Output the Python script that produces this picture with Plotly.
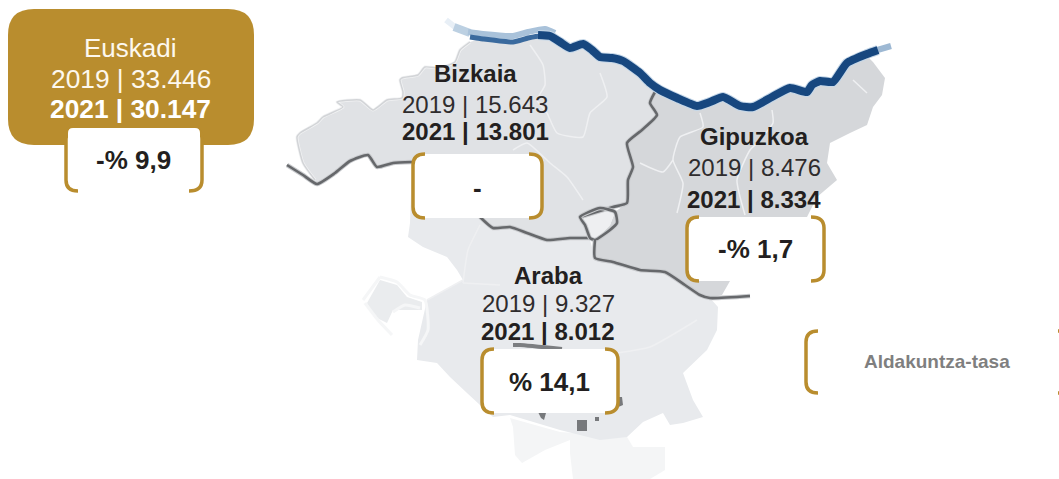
import plotly.graph_objects as go

# ---------- data ----------
territories = ["Bizkaia", "Gipuzkoa", "Araba"]
values_2019 = ["15.643", "8.476", "9.327"]
values_2021 = ["13.801", "8.334", "8.012"]
rates = ["-", "-% 1,7", "% 14,1"]
total_name = "Euskadi"
total_2019 = "33.446"
total_2021 = "30.147"
total_rate = "-% 9,9"
legend_label = "Aldakuntza-tasa"

# ---------- map outlines, in picture units ----------
coast = [(538,35),(550,36),(560,42),(570,48),(583,44),(592,50),(600,57),(612,58),(623,61),(640,73),(650,83),(660,90),(677,98),(697,106),(710,102),(723,97),(740,106),(753,107),(772,97),(790,88),(807,92),(812,85),(820,81),(833,82),(847,63),(867,54),(878,50)]
coast_w1 = [(446,20),(455,27)]
coast_w2 = [(454,27),(470,33)]
coast_w3 = [(468,32),(483,34),(513,36),(528,32),(545,29),(555,33)]
coast_w4 = [(470,37),(483,39),(513,42),(528,38),(540,36),(552,38)]
coast_e = [(874,51),(891,46)]

bizkaia = [(470,42),(460,50),(455,62),(440,68),(425,67),(418,75),(402,78),(400,80),(403,92),(402,98),(387,100),(373,110),(360,100),(337,102),(343,107),(323,117),(317,123),(300,133),(297,137),(303,163),(317,183),(335,172),(350,161),(368,155),(377,167),(393,163),(412,162),(440,180),(480,217),(493,228),(510,227),(527,233),(547,240),(590,238),(585,225),(580,217),(600,208),(627,203),(628,180),(633,167),(627,143),(642,130),(657,115),(650,103),(655,92),(640,73),(623,61),(600,57),(583,44),(570,48),(550,34),(513,41),(483,38)]
bizkaia_edge = [(470,42),(460,50),(455,62),(440,68),(425,67),(418,75),(402,78),(400,80),(403,92),(402,98),(387,100),(373,110),(360,100),(337,102),(343,107),(323,117),(317,123),(300,133),(297,137),(303,163),(315,180)]
gipuzkoa = [(655,92),(650,103),(657,115),(642,130),(627,143),(633,167),(628,180),(627,203),(615,212),(610,225),(595,240),(595,258),(613,262),(640,270),(665,272),(685,285),(710,298),(722,295),(730,281),(807,217),(817,197),(837,180),(827,163),(830,143),(850,133),(867,125),(873,107),(882,95),(885,78),(873,62),(867,56),(847,65),(833,84),(817,84),(807,94),(790,90),(753,109),(740,108),(723,99),(697,108),(677,100),(660,92)]
araba = [(480,217),(493,228),(510,227),(527,233),(547,240),(590,240),(595,258),(613,262),(640,270),(665,272),(685,285),(710,298),(718,307),(717,330),(707,350),(683,373),(693,400),(703,417),(683,423),(670,425),(663,413),(643,422),(627,437),(600,440),(560,430),(510,415),(493,417),(467,393),(450,377),(437,363),(417,360),(418,340),(427,300),(463,280),(457,270),(447,257),(423,247),(408,237),(410,223),(412,162),(440,180)]
araba_west = [(380,280),(397,285),(407,297),(422,302),(422,310),(393,310),(387,323),(375,317),(367,303)]
araba_south = [(510,418),(513,427),(515,455),(522,463),(545,450),(570,440),(570,453),(573,479),(650,479),(665,470),(665,447),(633,447),(627,437),(560,432)]
loop_fill = [(580,217),(600,208),(615,212),(610,225),(595,240),(590,238),(585,225)]

border_west = [(287,165),(303,175),(317,184),(335,173),(350,161),(368,155),(377,167),(393,163),(412,162)]
border_mid = [(480,217),(493,228),(510,227),(527,233),(547,240),(570,238),(590,238)]
border_north = [(655,92),(650,103),(657,115),(642,130),(627,143),(633,167),(628,180),(627,203),(613,207),(580,217)]
border_loop = [(580,217),(600,208),(615,212),(617,223),(610,230),(595,240),(590,238),(588,233),(585,225),(580,217)]
border_south = [(595,240),(595,258),(613,262),(640,270),(665,272),(685,285),(700,295),(710,298),(750,296)]
araba_mark = [(513,345),(520,345),(562,349)]
blob_a = [(577,420),(587,420),(587,431),(577,431)]
blob_b = [(538,412),(546,413),(544,420),(541,418)]
blob_c = [(595,417),(599,417),(599,421),(595,421)]
blob_d = [(615,397),(622,397),(623,405),(616,408)]

white_lines = [
    [(530,45),(543,65),(545,85),(537,100),(547,113),(557,133),(583,137),(590,113),(607,97),(600,73)],
    [(513,150),(527,143),(550,163),(567,177),(583,200)],
    [(700,113),(703,127),(680,137),(673,160),(683,183),(677,213)],
    [(772,110),(773,123),(755,145),(750,150),(737,180),(745,215)],
    [(853,80),(867,93)],
    [(640,163),(663,172),(673,160)],
    [(617,353),(650,347),(697,320)],
    [(463,283),(468,250),(480,225)],
    [(463,283),(500,285)],
    [(427,300),(463,280)],
]
pale_rims = [
    [(380,277),(397,282),(410,295),(425,300),(428,330),(420,345)],
    [(365,303),(378,320),(392,335)],
    [(380,277),(363,300)],
    [(393,312),(405,305),(420,308)],
]

INK = "#231f20"
SOFT_INK = "#2f2c2d"
GOLD = "#b98d2e"
BLUE = "#17477f"
fig = go.Figure()


def poly(pts, color):
    fig.add_trace(go.Scatter(x=[p[0] for p in pts], y=[p[1] for p in pts], mode="lines",
                             fill="toself", fillcolor=color, line=dict(width=0),
                             hoverinfo="skip", showlegend=False))


def line(pts, color, width, spline=True):
    fig.add_trace(go.Scatter(x=[p[0] for p in pts], y=[p[1] for p in pts], mode="lines",
                             line=dict(color=color, width=width,
                                       shape="spline" if spline else "linear", smoothing=0.5),
                             hoverinfo="skip", showlegend=False))


poly(araba_south, "#f4f5f6")
poly(araba_west, "#eaecee")
poly(araba, "#e8eaed")
poly(bizkaia, "#e0e2e5")
poly(gipuzkoa, "#d5d7da")
poly(loop_fill, "#eeeff1")
line(bizkaia_edge, "#f2f3f4", 3)
line(bizkaia_edge, "#d2d4d7", 1.5)
for w in white_lines:
    line(w, "#eff0f2", 1.5)
for w in pale_rims:
    line(w, "#f5f6f7", 3)
for b in (border_west, border_mid, border_north, border_loop, border_south):
    line(b, "#c9cbce", 4.5)
    line(b, "#66686b", 2.6)
line(araba_mark, "#7c7e81", 4)
for b in (blob_a, blob_b, blob_c, blob_d):
    poly(b, "#77797c")
line(coast_w1, "#e8eff6", 6)
line(coast_w2, "#bcd0e2", 8)
line(coast_w3, "#a9c2da", 6)
line(coast_w4, "#3a6a9e", 5)
line(coast_e, "#9db8d3", 6)
line(coast, "#c5d7e8", 10)
line(coast, BLUE, 8)


def round_box(x0, y0, x1, y1, r):
    return (f"M{x0+r},{y0} L{x1-r},{y0} Q{x1},{y0} {x1},{y0+r} L{x1},{y1-r} Q{x1},{y1} {x1-r},{y1} "
            f"L{x0+r},{y1} Q{x0},{y1} {x0},{y1-r} L{x0},{y0+r} Q{x0},{y0} {x0+r},{y0} Z")


def bracket(x, y0, y1, end):
    return f"M{end},{y0} Q{x},{y0} {x},{y0+11} L{x},{y1-11} Q{x},{y1} {end},{y1}"


shapes = []


def add_shape(path, fill=None, stroke=None, width=0):
    shapes.append(dict(type="path", path=path, xref="x", yref="y", layer="above",
                       fillcolor=fill if fill else "rgba(0,0,0,0)",
                       line=dict(color=stroke if stroke else "rgba(0,0,0,0)", width=width)))


add_shape(round_box(8, 9, 254, 145, 26), fill=GOLD)
# callouts: left, right, top, bottom
callouts = [(66, 202, 128, 191), (413, 542, 154, 218), (687, 824, 217, 281), (482, 618, 349, 413), (806, 1071, 331, 393)]
for x0, x1, y0, y1 in callouts:
    add_shape(round_box(x0, y0, x1, y1, 9), fill="#ffffff")
    add_shape(bracket(x0, y0, y1, x0 + 12), stroke=GOLD, width=3.5)
    add_shape(bracket(x1, y0, y1, x1 - 13), stroke=GOLD, width=3.5)
# the top of the first callout sits on the gold panel, so its corners stay white
add_shape(round_box(68, 128, 200, 160, 5), fill="#ffffff")

annotations = []


def text(x, y, s, size, color=INK, bold=False):
    annotations.append(dict(x=x, y=y, xref="x", yref="y", showarrow=False,
                            xanchor="center", yanchor="middle",
                            text=f"<b>{s}</b>" if bold else s,
                            font=dict(family="Liberation Sans", size=size, color=color)))


CREAM = "#fdf8ee"
text(130.5, 48, total_name, 26, CREAM)
text(130.5, 79, f"2019 | {total_2019}", 26.3, CREAM)
text(130.5, 109, f"2021 | {total_2021}", 26.3, "#ffffff", True)
text(133.5, 160, total_rate, 26, bold=True)

label_pos = [(475, 73, 104, 131), (754, 136, 167, 199), (548, 275, 303, 331)]
rate_pos = [(477.5, 188), (755, 249), (549, 382)]
for i, name in enumerate(territories):
    x, y_name, y_a, y_b = label_pos[i]
    text(x, y_name, name, 24, bold=True)
    text(x, y_a, f"2019 | {values_2019[i]}", 24, SOFT_INK)
    text(x, y_b, f"2021 | {values_2021[i]}", 24, bold=True)
    text(rate_pos[i][0], rate_pos[i][1], rates[i], 26, bold=True)
text(937, 361, legend_label, 19, "#7f7f7f", True)

fig.update_layout(
    width=1059, height=479, margin=dict(l=0, r=0, t=0, b=0),
    paper_bgcolor="#ffffff", plot_bgcolor="#ffffff", showlegend=False,
    xaxis=dict(range=[0, 1059], visible=False, fixedrange=True),
    yaxis=dict(range=[479, 0], visible=False, fixedrange=True),
    shapes=shapes, annotations=annotations,
)
fig.write_html("out.html", config={"displayModeBar": False},
               post_script="document.body.style.margin='0';document.documentElement.style.overflow='hidden';")
